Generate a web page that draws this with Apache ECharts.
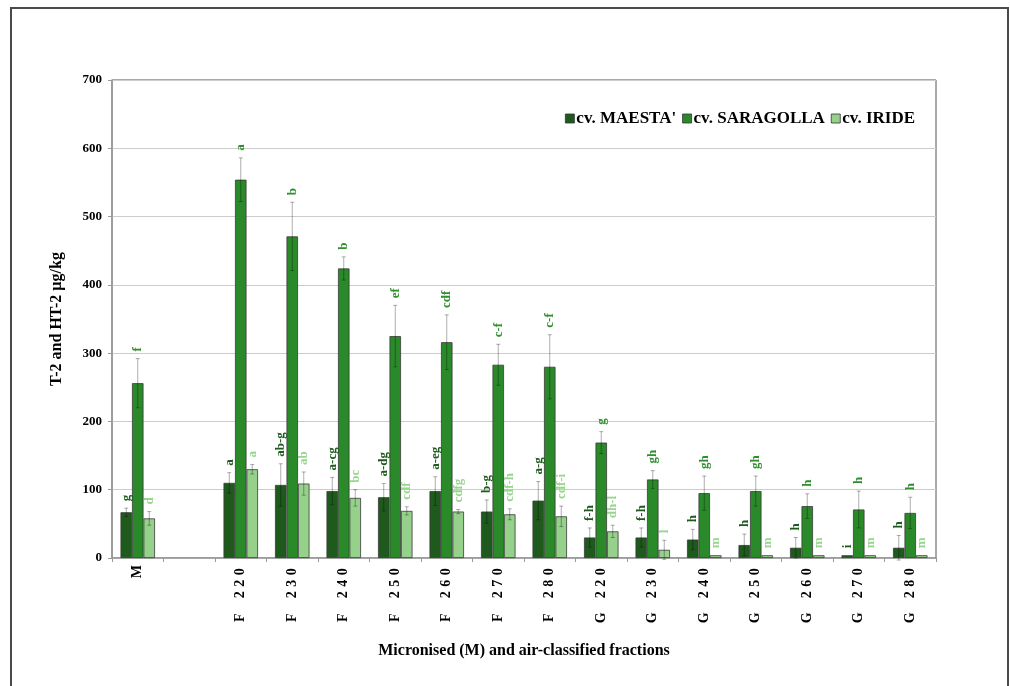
<!DOCTYPE html>
<html>
<head>
    <meta charset="utf-8">
    <title>T-2 and HT-2 in fractions</title>
    <script src="https://cdn.jsdelivr.net/npm/echarts@6/dist/echarts.min.js"></script>
    <style>
        body { margin: 0; background: #fff; }
        #chart { width: 1010px; height: 686px; }
    </style>
</head>
<body>
    <div id="chart"></div>

    <script type="text/javascript">

        var categories = ['M', '', 'F 220', 'F 230', 'F 240', 'F 250', 'F 260', 'F 270', 'F 280',
                          'G 220', 'G 230', 'G 240', 'G 250', 'G 260', 'G 270', 'G 280'];
        var seriesNames = ["cv. MAESTA'", 'cv. SARAGOLLA', 'cv. IRIDE'];

        // means
        var maesta    = [67, null, 110, 107, 98, 89, 98, 68, 84, 30, 30, 27, 19, 15, 4, 15];
        var saragolla = [256, null, 554, 471, 424, 325, 316, 283, 280, 169, 115, 95, 98, 76, 71, 66];
        var iride     = [58, null, 130, 109, 88, 69, 68, 64, 61, 39, 12, 4, 4, 4, 4, 4];

        // standard deviations
        var maestaErr    = [6, null, 15, 31, 20, 20, 21, 17, 28, 14, 14, 15, 16, 15, 0, 18];
        var saragollaErr = [36, null, 32, 50, 17, 45, 40, 30, 47, 16, 13, 25, 22, 18, 27, 23];
        var irideErr     = [10, null, 7, 17, 12, 6, 3, 8, 15, 9, 14, 0, 0, 0, 0, 0];

        // letters
        var maestaTxt    = ['g', '', 'a', 'ab-g', 'a-cg', 'a-dg', 'a-eg', 'b-g', 'a-g', 'f-h', 'f-h', 'h', 'h', 'h', 'i', 'h'];
        var saragollaTxt = ['f', '', 'a', 'b', 'b', 'ef', 'cdf', 'c-f', 'c-f', 'g', 'gh', 'gh', 'gh', 'h', 'h', 'h'];
        var irideTxt     = ['d', '', 'a', 'ab', 'bc', 'cdf', 'cdfg', 'cdf-h', 'cdf-i', 'dh-l', 'l', 'm', 'm', 'm', 'm', 'm'];

        var barColors = ['#1f5a1d', '#2a8a2a', '#95d18a'];
        var txtColors = ['#1d5a1d', '#2f8f2f', '#98d68d'];
        var barW = 11.5;
        var serifFont = '"Liberation Serif", "DejaVu Serif", serif';

        var means = [maesta, saragolla, iride];
        var errs = [maestaErr, saragollaErr, irideErr];
        var texts = [maestaTxt, saragollaTxt, irideTxt];

        function errSeries(k) {
            var data = [];
            for (var i = 0; i < categories.length; i++) {
                if (means[k][i] == null) continue;
                data.push([i, means[k][i], errs[k][i], texts[k][i]]);
            }
            return {
                type: 'custom',
                name: seriesNames[k] + ' err',
                z: 5,
                data: data,
                encode: { x: 0, y: 1 },
                renderItem: function (params, api) {
                    var idx = api.value(0), v = api.value(1), e = api.value(2);
                    var off = (k - 1) * barW;
                    var top = api.coord([idx, v + e]);
                    var bot = api.coord([idx, v - e]);
                    var x = top[0] + off;
                    var children = [];
                    if (e > 0) {
                        var st = { stroke: 'rgba(0,0,0,0.32)', lineWidth: 1 };
                        children.push({ type: 'line', shape: { x1: x, y1: top[1], x2: x, y2: bot[1] }, style: st });
                        children.push({ type: 'line', shape: { x1: x - 2, y1: top[1], x2: x + 2, y2: top[1] }, style: st });
                        children.push({ type: 'line', shape: { x1: x - 2, y1: bot[1], x2: x + 2, y2: bot[1] }, style: st });
                    }
                    children.push({
                        type: 'text',
                        x: x,
                        y: top[1] - 7,
                        rotation: Math.PI / 2,
                        style: {
                            text: api.value(3),
                            fill: txtColors[k],
                            font: 'bold 13px ' + serifFont,
                            align: 'left',
                            verticalAlign: 'middle'
                        }
                    });
                    return { type: 'group', children: children };
                }
            };
        }

        var series = [];
        for (var k = 0; k < 3; k++) {
            series.push({
                name: seriesNames[k],
                type: 'bar',
                data: means[k],
                barWidth: barW,
                barGap: '0%',
                itemStyle: { color: barColors[k], borderColor: '#3a3a3a', borderWidth: 0.8 }
            });
        }
        for (var k = 0; k < 3; k++) series.push(errSeries(k));

        // spaced-out category labels, one fixed-width token per character
        function spaced(value) {
            return value.split('').map(function (c) { return '{c|' + c + '}'; }).join('');
        }

        var myChart = echarts.init(document.getElementById('chart'));
        option = {
            animation: false,
            backgroundColor: '#fff',
            textStyle: { fontFamily: serifFont },
            graphic: [{
                type: 'rect',
                shape: { x: 11, y: 8, width: 997, height: 700 },
                style: { fill: null, stroke: '#4a4a4a', lineWidth: 2 },
                silent: true
            }],
            legend: {
                data: seriesNames,
                top: 105,
                right: 90,
                itemWidth: 9,
                itemHeight: 9,
                itemGap: 6,
                icon: 'rect',
                itemStyle: { borderColor: '#333', borderWidth: 0.8 },
                textStyle: { fontFamily: serifFont, fontWeight: 'bold', fontSize: 17, color: '#000', padding: [0, 0, 0, -3] }
            },
            grid: {
                left: 112, right: 74, top: 80, bottom: 128,
                show: true, borderColor: '#555', borderWidth: 1
            },
            xAxis: {
                type: 'category',
                data: categories,
                name: 'Micronised (M) and air-classified fractions',
                nameLocation: 'middle',
                nameGap: 85,
                nameTextStyle: { fontFamily: serifFont, fontWeight: 'bold', fontSize: 16, color: '#000' },
                axisLine: { lineStyle: { color: '#999', width: 1.5 } },
                axisTick: { show: true, length: 4, lineStyle: { color: '#999' } },
                axisLabel: {
                    rotate: 90, interval: 0, margin: 8,
                    formatter: spaced,
                    rich: {
                        c: { width: 11.5, align: 'center', fontFamily: serifFont, fontWeight: 'bold', fontSize: 14, color: '#000' }
                    }
                }
            },
            yAxis: {
                type: 'value',
                min: 0, max: 700, interval: 100,
                name: 'T-2 and HT-2 µg/kg',
                nameLocation: 'middle',
                nameGap: 47,
                nameTextStyle: { fontFamily: serifFont, fontWeight: 'bold', fontSize: 16, color: '#000' },
                axisLine: { show: true, lineStyle: { color: '#999', width: 1.5 } },
                axisTick: { show: true, length: 4, inside: false, lineStyle: { color: '#999' } },
                axisLabel: { margin: 10, fontFamily: serifFont, fontWeight: 'bold', fontSize: 13, color: '#000' },
                splitLine: { lineStyle: { color: '#cccccc' } }
            },
            series: series
        };
        myChart.setOption(option);
    </script>
</body>
</html>
